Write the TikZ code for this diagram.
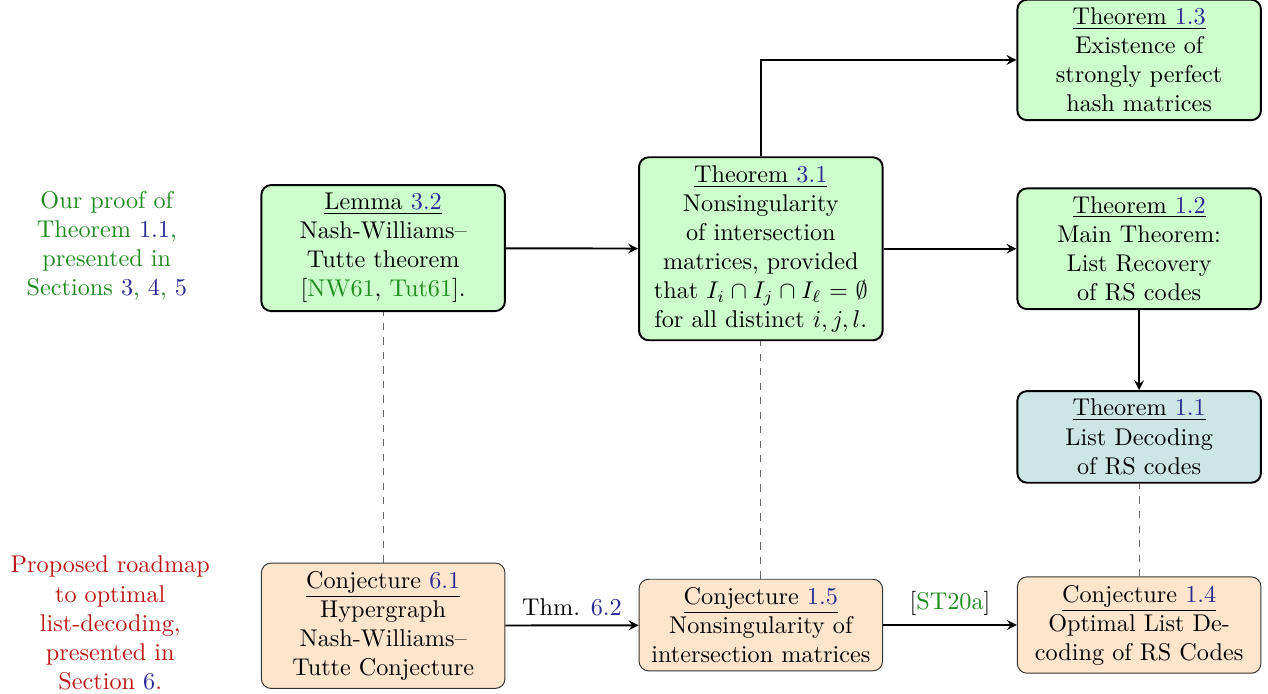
\documentclass[tikz,border=0pt]{standalone}
\usepackage{amsmath}
\usepackage{amssymb}
\usepackage{tikz}
\definecolor{linkblue}{RGB}{40,40,150}
\definecolor{citegreen}{RGB}{30,140,30}
\definecolor{roadred}{RGB}{190,20,20}
\tikzstyle{thmbox} = [draw=black, fill=green!20, thick,
    rectangle, rounded corners, text width=3.3cm, align=center]
\tikzstyle{mainbox} = [thmbox, fill=teal!20]
\tikzstyle{conjbox} = [draw=black!80, fill=orange!20, thin,
    rectangle, rounded corners, text width=3.3cm, align=center]
\tikzstyle{implies} = [->, >=stealth, thick]
\tikzstyle{analog} = [dashed, black!60]
\newcommand{\lref}[1]{\textcolor{linkblue}{#1}}
\newcommand{\lcite}[1]{\textcolor{citegreen}{#1}}

\begin{document}
\begin{tikzpicture}
                \useasboundingbox (0,0) rectangle (18.40,10.07);
                \node [align=center, text=citegreen] (ours) at (1.55,6.50)
                    {Our proof of\\Theorem \lref{1.1},\\presented in\\Sections \lref{3}, \lref{4}, \lref{5}};
                \node [align=center, text=roadred] (roadmap) at (1.60,1.03)
                    {Proposed roadmap\\to optimal\\list-decoding,\\presented in\\Section \lref{6}.};
                \node [thmbox] (lem32) at (5.56,6.47)
                    {\underline{Lemma \lref{3.2}}\\Nash-Williams--\\Tutte theorem\\{[}\lcite{NW61}, \lcite{Tut61}{]}.};
                \node [thmbox] (thm31) at (11.04,6.46)
                    {\underline{Theorem \lref{3.1}}\\Nonsingularity\\of intersection\\matrices, provided\\that $I_i\cap I_j\cap I_\ell=\emptyset$\\for all distinct $i,j,l$.};
                \node [thmbox] (thm13) at (16.53,9.20)
                    {\underline{Theorem \lref{1.3}}\\Existence of\\strongly perfect\\hash matrices};
                \node [thmbox] (thm12) at (16.53,6.46)
                    {\underline{Theorem \lref{1.2}}\\Main Theorem:\\List Recovery\\of RS codes};
                \node [mainbox] (thm11) at (16.53,3.73)
                    {\underline{Theorem \lref{1.1}}\\List Decoding\\of RS codes};
                \node [conjbox] (conj61) at (5.56,0.99)
                    {\underline{Conjecture \lref{6.1}}\\Hypergraph\\Nash-Williams--\\Tutte Conjecture};
                \node [conjbox] (conj15) at (11.04,1.00)
                    {\underline{Conjecture \lref{1.5}}\\Nonsingularity of\\intersection matrices};
                \node [conjbox] (conj14) at (16.53,1.00)
                    {\underline{Conjecture \lref{1.4}}\\Optimal List De-\\coding of RS Codes};
                \draw [implies] (lem32) -- (thm31);
                \draw [implies] (thm31) -- (thm12);
                \draw [implies] (thm31.north) |- (thm13.west);
                \draw [implies] (thm12) -- (thm11);
                \draw [implies] (conj61) -- node[above] {Thm. \lref{6.2}} (conj15);
                \draw [implies] (conj15) -- node[above] {[\lcite{ST20a}]} (conj14);
                \draw [analog] (conj61) -- (lem32);
                \draw [analog] (conj15) -- (thm31);
                \draw [analog] (conj14) -- (thm11);
            \end{tikzpicture}
\end{document}
